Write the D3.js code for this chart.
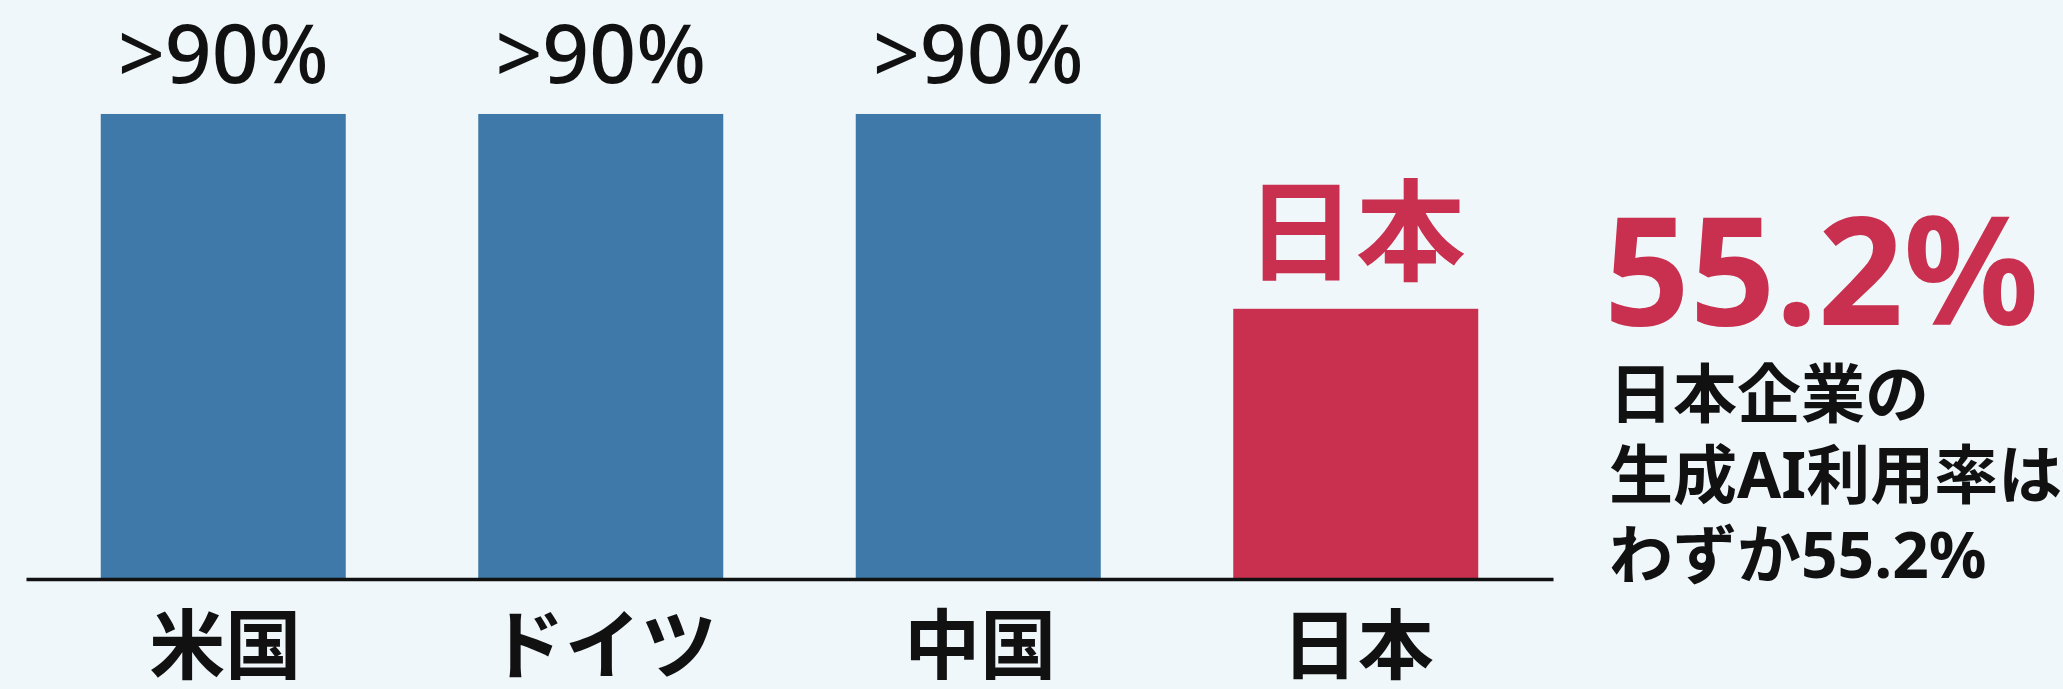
<!DOCTYPE html>
<html>
<head>
<meta charset="utf-8">
<script src="https://cdn.jsdelivr.net/npm/d3@7"></script>
<style>
  html, body { margin: 0; padding: 0; background: #eff7fa; }
  svg { display: block; }
  text { font-family: "Noto Sans CJK JP", "Noto Sans", sans-serif; }
</style>
</head>
<body>
<div id="chart"></div>
<script>
// data
var categories = ["米国", "ドイツ", "中国", "日本"];
var values = [95, 95, 95, 55.2];          // ">90%" bars drawn at ~95
var valueLabels = [">90%", ">90%", ">90%", "日本"];
var highlight = "日本";
var headline = "55.2%";
var noteLines = ["日本企業の", "生成AI利用率は", "わずか55.2%"];

var W = 2063, H = 689;
var blue = "#3e79a9", red = "#c9304f";
var latin = "'Noto Sans', 'Noto Sans CJK JP', sans-serif";

var svg = d3.select("#chart")
  .append("svg")
  .attr("width", W)
  .attr("height", H);

svg.append("rect")
  .attr("width", W).attr("height", H)
  .attr("fill", "#eff7fa");

// x scale = one band per country
var x = d3.scaleBand()
  .domain(categories)
  .range([26, 1553])
  .paddingInner(0.351)
  .paddingOuter(0.198);

// y scale
var baseY = 579;
var y = d3.scaleLinear()
  .domain([0, 100])
  .range([baseY, 89.5]);

// bars
svg.selectAll("rect.bar")
  .data(categories)
  .enter().append("rect")
  .attr("class", "bar")
  .attr("x", function (d) { return x(d); })
  .attr("width", x.bandwidth())
  .attr("y", function (d, i) { return y(values[i]); })
  .attr("height", function (d, i) { return y(0) - y(values[i]); })
  .attr("fill", function (d) { return d === highlight ? red : blue; });

// baseline axis (no ticks, labels drawn below)
var axis = svg.append("g")
  .attr("transform", "translate(0," + baseY + ")")
  .call(d3.axisBottom(x).tickSize(0).tickSizeOuter(0).tickPadding(0));
axis.select(".domain")
  .attr("stroke", "#111")
  .attr("stroke-width", 3.5);
axis.selectAll(".tick text")
  .attr("x", 2)
  .attr("y", 94)
  .attr("dy", null)
  .attr("fill", "#111")
  .style("font-size", "76px")
  .style("font-weight", "bold")
  .style("font-family", "'Noto Sans CJK JP', sans-serif");

// value labels above bars
svg.selectAll("text.vlabel")
  .data(categories)
  .enter().append("text")
  .attr("class", "vlabel")
  .attr("x", function (d) { return x(d) + x.bandwidth() / 2; })
  .attr("y", function (d, i) { return d === highlight ? y(values[i]) - 37 : 83; })
  .attr("text-anchor", "middle")
  .attr("fill", function (d) { return d === highlight ? red : "#111"; })
  .style("font-family", function (d) { return d === highlight ? null : latin; })
  .style("font-size", function (d) { return d === highlight ? "110px" : "82px"; })
  .style("font-weight", function (d) { return d === highlight ? "bold" : "500"; })
  .text(function (d, i) { return valueLabels[i]; });

// right-hand callout
svg.append("text")
  .attr("x", 1604)
  .attr("y", 325)
  .attr("fill", red)
  .style("font-family", latin)
  .style("font-size", "150px")
  .style("font-weight", "bold")
  .text(headline);

svg.selectAll("text.note")
  .data(noteLines)
  .enter().append("text")
  .attr("class", "note")
  .attr("x", 1609)
  .attr("y", function (d, i) { return 417 + i * 80.5; })
  .attr("fill", "#111")
  .style("font-family", latin)
  .style("font-size", "64px")
  .style("font-weight", "bold")
  .text(function (d) { return d; });
</script>
</body>
</html>
